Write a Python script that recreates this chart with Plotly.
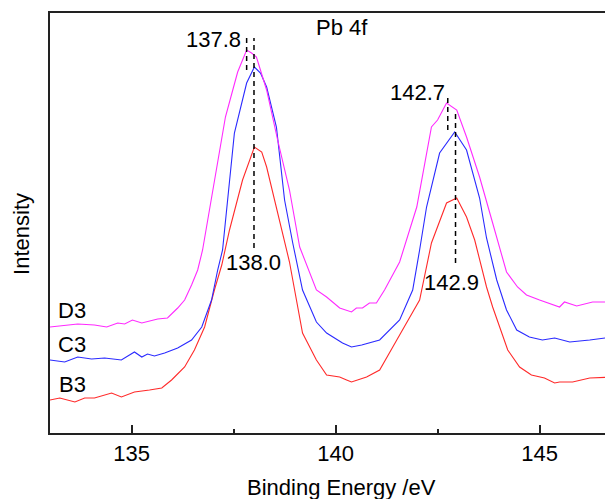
import plotly.graph_objects as go

# ---------- data ----------
energy_b3 = [133.0, 133.24, 133.61, 133.85, 134.09, 134.34, 134.51, 134.75, 135.07, 135.44,
             135.74, 135.98, 136.30, 136.54, 136.79, 137.03, 137.21, 137.40, 137.72, 138.01,
             138.19, 138.31, 138.63, 138.87, 139.19, 139.53, 139.78, 140.10, 140.27, 140.39,
             140.76, 141.08, 141.50, 142.06, 142.35, 142.72, 142.97, 143.21, 143.41, 143.70,
             143.85, 144.22, 144.51, 144.80, 145.12, 145.37, 145.49, 145.81, 146.23, 146.79]
int_b3 = [33, 35, 31, 35, 35, 38, 40, 36, 41, 43,
          45, 53, 66, 83, 106, 143, 168, 203, 253, 286,
          281, 266, 210, 171, 100, 73, 58, 56, 53, 51,
          56, 63, 93, 133, 190, 230, 235, 216, 193, 146,
          126, 83, 66, 58, 55, 50, 51, 51, 55, 56]

energy_c3 = [133.0, 133.36, 133.68, 134.02, 134.34, 134.75, 135.07, 135.25, 135.39, 135.56,
             135.81, 136.13, 136.47, 136.72, 136.96, 137.11, 137.23, 137.38, 137.52, 137.82,
             138.01, 138.16, 138.31, 138.55, 138.75, 138.95, 139.19, 139.53, 139.78, 140.17,
             140.39, 140.64, 140.83, 141.08, 141.57, 141.89, 142.06, 142.23, 142.55, 142.92,
             143.21, 143.53, 143.70, 143.95, 144.19, 144.44, 144.75, 145.07, 145.37, 145.74,
             146.23, 146.79]
int_c3 = [73, 71, 76, 74, 75, 73, 81, 76, 79, 77,
          80, 85, 93, 106, 133, 163, 183, 243, 300, 350,
          366, 360, 346, 306, 233, 190, 143, 111, 100, 90,
          86, 88, 90, 93, 113, 143, 183, 226, 280, 301,
          283, 235, 195, 153, 123, 103, 96, 93, 95, 91,
          93, 96]

energy_d3 = [133.0, 133.68, 134.09, 134.39, 134.66, 134.83, 135.02, 135.25, 135.64, 135.88,
             136.13, 136.30, 136.47, 136.62, 136.74, 137.11, 137.30, 137.48, 137.60, 137.82,
             137.94, 138.06, 138.31, 138.58, 138.87, 139.12, 139.36, 139.53, 139.78, 140.10,
             140.39, 140.51, 140.66, 140.83, 141.00, 141.20, 141.57, 141.99, 142.35, 142.50,
             142.72, 142.97, 143.21, 143.53, 143.85, 144.19, 144.46, 144.68, 145.0, 145.49,
             145.61, 145.91, 146.30, 146.79]
int_d3 = [106, 109, 108, 106, 110, 109, 113, 110, 114, 115,
          125, 133, 148, 163, 183, 270, 316, 343, 361, 383,
          380, 376, 343, 293, 243, 186, 160, 143, 136, 125,
          121, 125, 125, 130, 130, 143, 171, 226, 306, 313,
          330, 323, 296, 256, 210, 161, 146, 138, 133, 126,
          131, 127, 131, 131]

series_names = ["B3", "C3", "D3"]
series_colors = ["#ff2a2a", "#2a2aff", "#ff2aff"]

# peak markers: x position, y bottom, y top
peak_x = [137.82, 138.0, 142.75, 142.94]
peak_y0 = [363, 185, 303, 170]
peak_y1 = [395, 395, 339, 323]
peak_labels = ["137.8", "138.0", "142.7", "142.9"]

FONT = "Liberation Sans, Arial, sans-serif"
FS = 22

fig = go.Figure()

for name, xs, ys, col in zip(series_names,
                             [energy_b3, energy_c3, energy_d3],
                             [int_b3, int_c3, int_d3],
                             series_colors):
    fig.add_trace(go.Scatter(x=xs, y=ys, mode="lines", name=name,
                             line=dict(color=col, width=1.1), showlegend=False))

for px, y0, y1 in zip(peak_x, peak_y0, peak_y1):
    fig.add_trace(go.Scatter(x=[px, px], y=[y0, y1], mode="lines", showlegend=False,
                             line=dict(color="black", width=1.5, dash="5px,4px")))

annotations = [
    dict(x=137.72, y=394, text=peak_labels[0], xanchor="right", yanchor="middle"),
    dict(x=138.0, y=171, text=peak_labels[1], xanchor="center", yanchor="middle"),
    dict(x=142.72, y=341, text=peak_labels[2], xanchor="right", yanchor="middle"),
    dict(x=142.84, y=151, text=peak_labels[3], xanchor="center", yanchor="middle"),
    dict(x=140.15, y=406, text="Pb 4f", xanchor="center", yanchor="middle"),
    dict(x=133.55, y=123, text="D3", xanchor="center", yanchor="middle"),
    dict(x=133.53, y=89, text="C3", xanchor="center", yanchor="middle"),
    dict(x=133.55, y=49, text="B3", xanchor="center", yanchor="middle"),
]
for a in annotations:
    a.update(xref="x", yref="y", showarrow=False, font=dict(size=FS, color="black", family=FONT))

annotations.append(dict(x=-0.0497, y=0.474, xref="paper", yref="paper", text="Intensity",
                        textangle=-90, showarrow=False, xanchor="center", yanchor="middle",
                        font=dict(size=FS, color="black", family=FONT)))
annotations.append(dict(x=0.517, y=-0.129, xref="paper", yref="paper", text="Binding Energy /eV",
                        showarrow=False, xanchor="center", yanchor="middle",
                        font=dict(size=FS, color="black", family=FONT)))

# the page body adds an 8px margin, so the figure is 8px smaller to fit the window
fig.update_layout(
    width=605, height=491,
    margin=dict(l=42, r=0, t=5, b=66, autoexpand=False),
    plot_bgcolor="white", paper_bgcolor="white",
    font=dict(family=FONT, size=FS, color="black"),
    annotations=annotations,
    xaxis=dict(range=[133, 146.8], showgrid=False, zeroline=False,
               showline=True, linecolor="#222", linewidth=1.5, mirror=True,
               tickmode="array", tickvals=[135, 140, 145], ticktext=["135", "140", "145"],
               ticks="inside", ticklen=8, tickwidth=1.5, tickcolor="#222",
               minor=dict(tickmode="array", tickvals=[137.5, 142.5], ticks="inside",
                          ticklen=4, tickwidth=1.5, tickcolor="#222"),
               tickfont=dict(size=FS, family=FONT)),
    yaxis=dict(range=[0, 420], showgrid=False, zeroline=False,
               showline=True, linecolor="#222", linewidth=1.5,
               showticklabels=False, ticks=""),
)

fig.write_html("out.html")
